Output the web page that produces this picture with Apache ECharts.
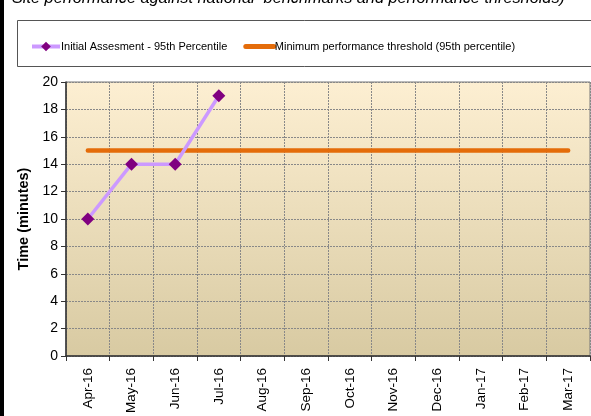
<!DOCTYPE html>
<html><head><meta charset="utf-8">
<script src="https://cdn.jsdelivr.net/npm/echarts@6/dist/echarts.min.js"></script>
<style>html,body{margin:0;padding:0;background:#fff}#c{width:591px;height:416px}</style>
</head><body><div id="c"></div>
<script>
var categories = ['Apr-16','May-16','Jun-16','Jul-16','Aug-16','Sep-16','Oct-16','Nov-16','Dec-16','Jan-17','Feb-17','Mar-17'];
var assessment = [10, 14, 14, 19, null, null, null, null, null, null, null, null];
var threshold = [15, 15, 15, 15, 15, 15, 15, 15, 15, 15, 15, 15];
var yTicks = [0, 2, 4, 6, 8, 10, 12, 14, 16, 18, 20];

var chart = echarts.init(document.getElementById('c'));
chart.setOption({
  animation: false,
  textStyle: { fontFamily: 'Liberation Sans, Arial, sans-serif' },
  graphic: [
    { type: 'rect', shape: { x: 0, y: 0, width: 4, height: 416 }, style: { fill: '#000' }, z: 10 },
    { type: 'rect', shape: { x: 17.5, y: 20.5, width: 580, height: 46 }, style: { fill: '#fff', stroke: '#555', lineWidth: 1 }, z: -1 },
    { type: 'text', left: 12, top: -10, style: { text: 'Site performance against national  benchmarks and performance thresholds)', font: 'italic 16.3px "Liberation Sans", Arial, sans-serif', fill: '#000' } }
  ],
  legend: {
    top: 36, left: 25, itemGap: 16, itemWidth: 28, itemHeight: 12,
    textStyle: { fontSize: 11, color: '#000', padding: [0, 0, 0, -4] },
    data: [
      { name: 'Initial Assesment - 95th Percentile', lineStyle: { width: 4, color: '#CC99FF' } },
      { name: 'Minimum performance threshold (95th percentile)', lineStyle: { width: 5, color: '#E46C0A', cap: 'round' }, itemStyle: { opacity: 0 } }
    ]
  },
  grid: {
    left: 66, right: 1, top: 82, bottom: 60, show: true,
    borderColor: '#777', borderWidth: 1,
    backgroundColor: { type: 'linear', x: 0, y: 0, x2: 0, y2: 1, colorStops: [{ offset: 0, color: '#FDEFD2' }, { offset: 1, color: '#D8CAA2' }] }
  },
  xAxis: {
    type: 'category', data: categories, boundaryGap: true,
    axisLine: { lineStyle: { color: '#333', width: 1.5 } },
    axisTick: { show: true, length: 5, lineStyle: { color: '#333' } },
    axisLabel: { rotate: 90, fontSize: 13.5, color: '#000', margin: 12 },
    splitLine: { show: true, lineStyle: { color: '#888', type: [2, 1], width: 1 } }
  },
  yAxis: {
    type: 'value', min: 0, max: 20, interval: 2,
    name: 'Time (minutes)', nameLocation: 'middle', nameGap: 35,
    nameTextStyle: { fontWeight: 'bold', fontSize: 14.5, color: '#000' },
    axisLine: { show: true, lineStyle: { color: '#333', width: 1.5 } },
    axisTick: { show: true, length: 5, lineStyle: { color: '#333' } },
    axisLabel: { fontSize: 14, color: '#000', margin: 8, formatter: function (v) { return yTicks.indexOf(v) >= 0 ? String(v) : ''; } },
    splitLine: { show: true, lineStyle: { color: '#888', type: [2, 1], width: 1 } }
  },
  series: [
    {
      name: 'Initial Assesment - 95th Percentile', type: 'line', data: assessment,
      symbol: 'diamond', symbolSize: 13,
      lineStyle: { color: '#CC99FF', width: 3.5 },
      itemStyle: { color: '#800080' }, z: 5
    },
    {
      name: 'Minimum performance threshold (95th percentile)', type: 'line', data: threshold,
      symbol: 'none', lineStyle: { color: '#E46C0A', width: 4.5, cap: 'round' },
      itemStyle: { color: '#E46C0A' }, z: 4
    }
  ]
});
</script></body></html>
